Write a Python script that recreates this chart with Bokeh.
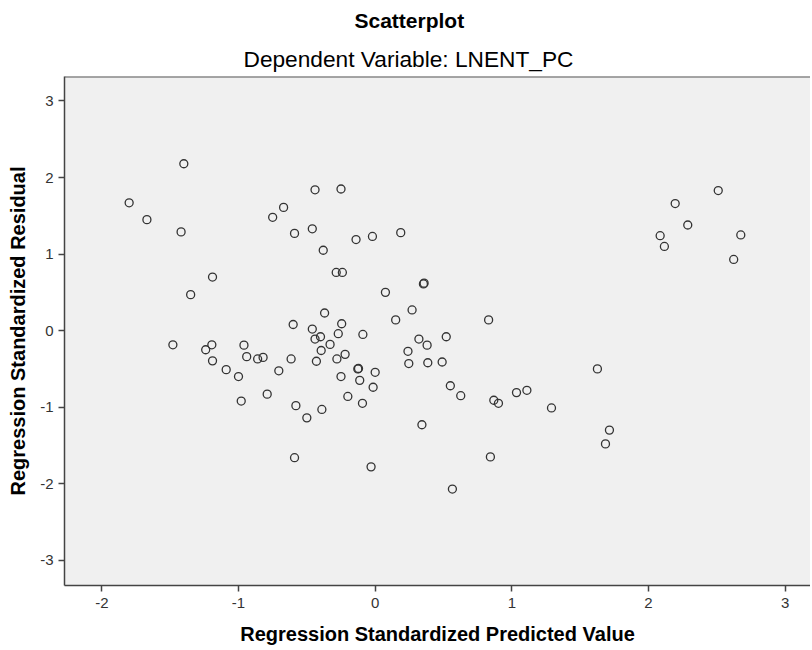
from bokeh.plotting import figure
from bokeh.models import Title, FixedTicker, Range1d, Span
from bokeh.embed import file_html
from bokeh.resources import INLINE

# Regression standardized predicted values (x) and residuals (y)
predicted = [
    -1.40, -1.80, -1.67, -1.42, -1.19, -1.35, -0.44, -0.25, -0.67, -0.75,
    -0.59, -0.46, -0.14, -0.02, -0.38, -0.285, -0.24, 0.075, -0.37, -0.60,
    -0.46, -0.245, -0.09,
    -1.48, -1.24, -1.195, -1.19, -0.96, -0.94, -0.86, -0.82, -1.09, -1.00,
    -0.98, -0.79, -0.705, -0.615, -0.58, -0.50, -0.39, -0.59, -0.03, -0.44,
    -0.40, -0.33, -0.395, -0.43, -0.27, -0.22, -0.28, -0.127, -0.122, -0.25,
    -0.113, 0.00, -0.015, -0.20, -0.093,
    0.187, 0.353, 0.358, 0.27, 0.15, 0.83, 0.32, 0.38, 0.52, 0.24,
    0.246, 0.385, 0.49, 0.55, 0.626, 0.868, 0.902, 1.034, 1.11, 1.29,
    0.342, 0.843, 0.565, 1.626, 1.714, 1.685, 2.195, 2.287, 2.085, 2.116,
    2.51, 2.675, 2.623,
]
residual = [
    2.18, 1.67, 1.45, 1.29, 0.70, 0.47, 1.84, 1.85, 1.61, 1.48,
    1.27, 1.33, 1.19, 1.23, 1.05, 0.76, 0.76, 0.50, 0.23, 0.08,
    0.02, 0.09, -0.05,
    -0.185, -0.25, -0.185, -0.395, -0.19, -0.34, -0.37, -0.35, -0.51, -0.60,
    -0.92, -0.83, -0.525, -0.37, -0.98, -1.14, -1.03, -1.66, -1.78, -0.11,
    -0.08, -0.18, -0.26, -0.40, -0.04, -0.31, -0.37, -0.50, -0.495, -0.60,
    -0.65, -0.545, -0.74, -0.86, -0.95,
    1.28, 0.61, 0.62, 0.27, 0.14, 0.14, -0.11, -0.19, -0.08, -0.27,
    -0.43, -0.42, -0.41, -0.72, -0.85, -0.91, -0.95, -0.81, -0.78, -1.01,
    -1.23, -1.65, -2.07, -0.50, -1.30, -1.48, 1.66, 1.38, 1.24, 1.10,
    1.83, 1.25, 0.93,
]
x_ticks = [-2, -1, 0, 1, 2, 3]
y_ticks = [-3, -2, -1, 0, 1, 2, 3]
x_tick_labels = ["-2", "-1", "0", "1", "2", "3"]
y_tick_labels = ["-3", "-2", "-1", "0", "1", "2", "3"]

FONT = "Liberation Sans"
Y_MIN, Y_MAX = -3.33, 3.32

p = figure(width=810, height=647, output_backend="svg", toolbar_location=None,
           x_range=Range1d(-2.273, 3.185), y_range=Range1d(Y_MIN, Y_MAX),
           min_border_left=64, min_border_right=0, min_border_top=10,
           min_border_bottom=0)

p.background_fill_color = "#F0F0F0"
p.border_fill_color = "white"
p.outline_line_color = None
p.grid.visible = False

# top border of the plotting area (right side is cut off in the original)
p.add_layout(Span(location=Y_MAX, dimension="width", line_color="#555555",
                  line_width=2))

p.add_layout(Title(text="Dependent Variable: LNENT_PC", align="left", offset=179,
                   text_font=FONT, text_font_size="22.7px", text_font_style="normal",
                   text_color="black", standoff=10), "above")
p.add_layout(Title(text="Scatterplot", align="left", offset=290,
                   text_font=FONT, text_font_size="21px", text_font_style="bold",
                   text_color="black", standoff=13), "above")

p.scatter(predicted, residual, marker="circle", size=8, fill_color=None,
          line_color="#333333", line_width=1.3)

for ax in (p.xaxis[0], p.yaxis[0]):
    ax.axis_line_color = "#444444"
    ax.axis_line_width = 1.5
    ax.major_tick_line_color = "#444444"
    ax.major_tick_line_width = 1.5
    ax.major_tick_out = 6
    ax.major_tick_in = 0
    ax.minor_tick_line_color = None
    ax.major_label_text_font = FONT
    ax.major_label_text_font_size = "15px"
    ax.major_label_text_color = "#333333"
    ax.axis_label_text_font = FONT
    ax.axis_label_text_font_size = "20px"
    ax.axis_label_text_font_style = "bold"
    ax.axis_label_text_color = "black"

p.xaxis[0].ticker = FixedTicker(ticks=x_ticks)
p.yaxis[0].ticker = FixedTicker(ticks=y_ticks)
p.xaxis[0].major_label_overrides = dict(zip(x_ticks, x_tick_labels))
p.yaxis[0].major_label_overrides = dict(zip(y_ticks, y_tick_labels))
p.xaxis[0].axis_label = "Regression Standardized Predicted Value"
p.yaxis[0].axis_label = "Regression Standardized Residual"
p.xaxis[0].major_label_standoff = 6
p.yaxis[0].major_label_standoff = 5
p.xaxis[0].axis_label_standoff = 12
p.yaxis[0].axis_label_standoff = 8

open("out.html", "w").write(file_html(p, INLINE))
